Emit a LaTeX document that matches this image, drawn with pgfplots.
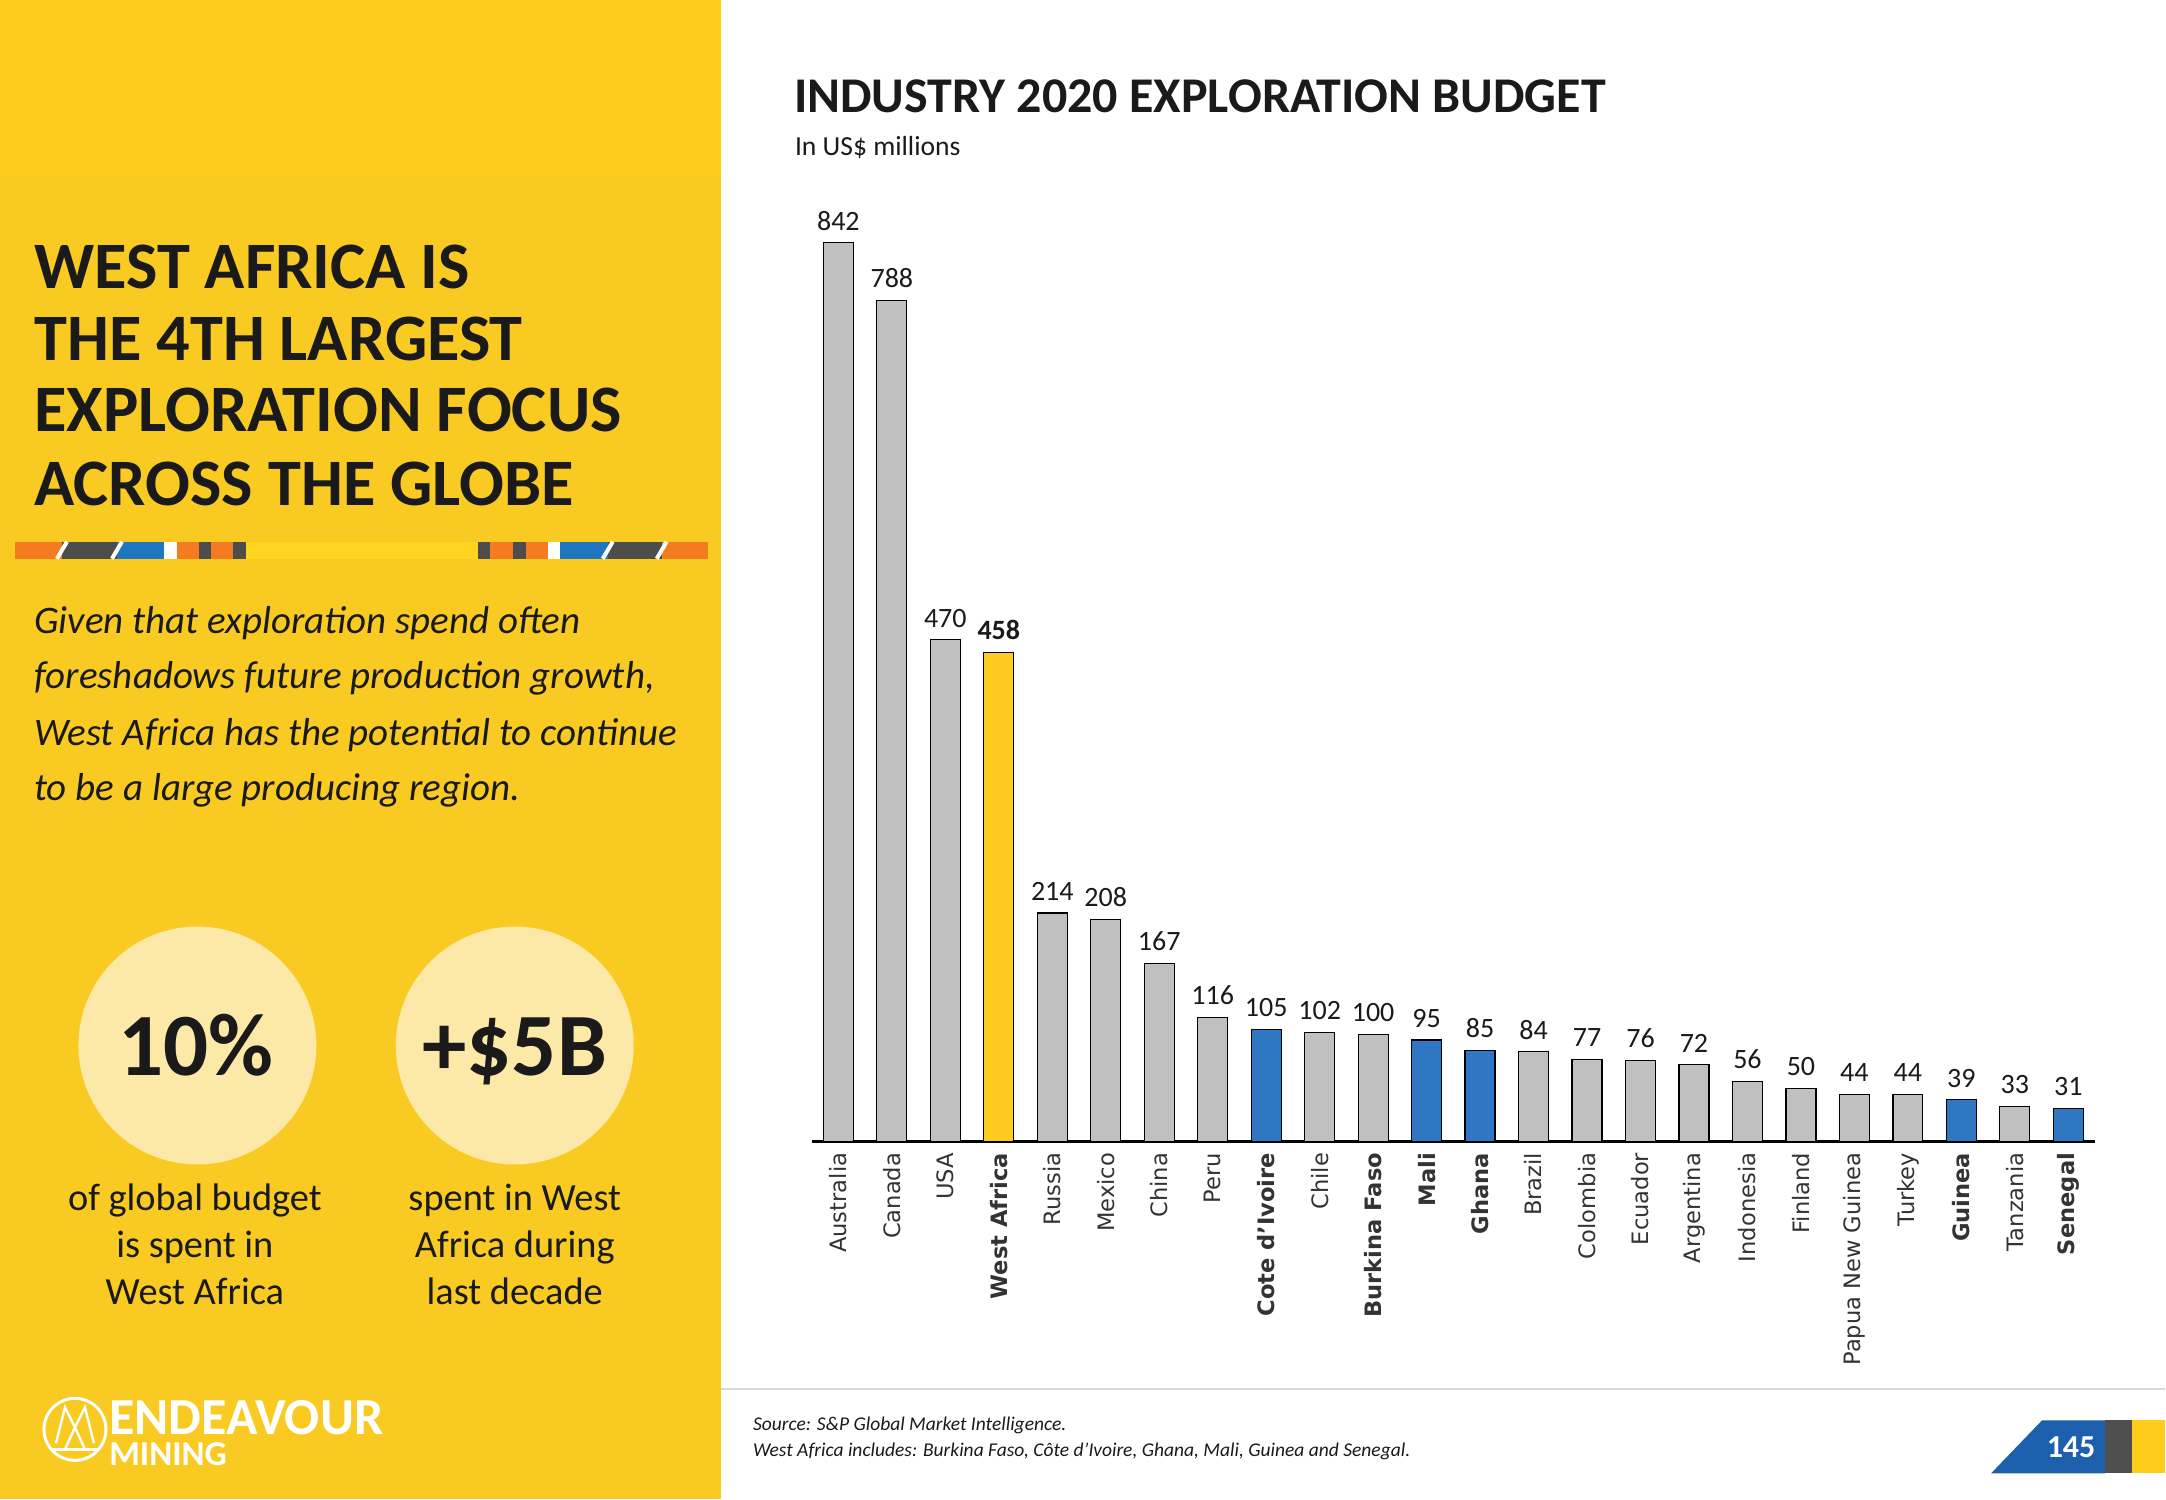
\documentclass[border=0pt]{standalone}
\usepackage{fontspec}
\setmainfont{Carlito}
\newfontfamily\dejavu{DejaVu Sans}
\usepackage{pgfplots}
\pgfplotsset{compat=1.18}
\definecolor{panel}{HTML}{F9CB22}
\definecolor{paneltop}{HTML}{FECD1A}
\definecolor{circ}{HTML}{FDE9A7}
\definecolor{sorange}{HTML}{F47B20}
\definecolor{sdark}{HTML}{4D4D4D}
\definecolor{sblue}{HTML}{1E76BE}
\definecolor{syellow}{HTML}{FFD41F}
\definecolor{bargrey}{HTML}{C0C0C0}
\definecolor{barblue}{HTML}{2F77C2}
\definecolor{baryellow}{HTML}{FFCB1F}
\definecolor{txt}{HTML}{1A1A1A}
\definecolor{pgblue}{HTML}{1C5FAD}
\definecolor{pggrey}{HTML}{4F4F4F}
\newcommand{\fs}[1]{\fontsize{#1}{#1}\selectfont}
\begin{document}
\begin{tikzpicture}[x=0.5pt,y=0.5pt]
% background
\fill[white] (0,0) rectangle (2166,1500);
\fill[panel] (0,0) rectangle (721,1500);
\fill[paneltop] (0,1323) rectangle (721,1500);
% headline
\begin{scope}[every node/.style={anchor=base west, inner sep=0pt, text=txt, font=\bfseries\fs{33.2}}]
\node at (34,1211) {WEST AFRICA IS};
\node at (34,1139) {THE 4TH LARGEST};
\node at (34,1068) {EXPLORATION FOCUS};
\node at (34,994) {ACROSS THE GLOBE};
\end{scope}
% stripe
\fill[sorange] (15,941) rectangle (62,958);
\fill[sdark] (62,941) rectangle (117,958);
\fill[sblue] (117,941) rectangle (164,958);
\fill[white] (164,941) rectangle (177,958);
\fill[sorange] (177,941) rectangle (199,958);
\fill[sdark] (199,941) rectangle (211,958);
\fill[sorange] (211,941) rectangle (233,958);
\fill[sdark] (233,941) rectangle (246,958);
\fill[syellow] (246,941) rectangle (478,958);
\fill[sdark] (478,941) rectangle (490,958);
\fill[sorange] (490,941) rectangle (513,958);
\fill[sdark] (513,941) rectangle (526,958);
\fill[sorange] (526,941) rectangle (548,958);
\fill[white] (548,941) rectangle (560,958);
\fill[sblue] (560,941) rectangle (608,958);
\fill[sdark] (608,941) rectangle (662,958);
\fill[sorange] (662,941) rectangle (708,958);
\foreach \s in {62,117,608,662} {\draw[white, line width=2pt] (\s-5,941) -- (\s+5,958);}
% paragraph
\begin{scope}[every node/.style={anchor=base west, inner sep=0pt, text=txt, font=\itshape\fs{19.5}}]
\node at (34,866) {Given that exploration spend often};
\node at (34,811) {foreshadows future production growth,};
\node at (34,754) {West Africa has the potential to continue};
\node at (34,699) {to be a large producing region.};
\end{scope}
% circles
\fill[circ] (197.5,454) circle (119);
\fill[circ] (515,454) circle (119);
\node[anchor=base, inner sep=0pt, text=txt, font=\bfseries\fs{44.5}] at (196,424) {10\%};
\node[anchor=base, inner sep=0pt, text=txt, font=\bfseries\fs{44.5}] at (515,424) {+\$5B};
\begin{scope}[every node/.style={anchor=base, inner sep=0pt, text=txt, font=\fs{19.2}}]
\node at (195,289) {of global budget};
\node at (195,242) {is spent in};
\node at (195,195) {West Africa};
\node at (515,289) {spent in West};
\node at (515,242) {Africa during};
\node at (515,195) {last decade};
\end{scope}
% logo
\draw[white, line width=1.5pt] (75,70) circle (31);
\draw[white, line width=1.2pt, line join=miter] (56,56) -- (65,92) -- (75,72) -- (85,92) -- (94,56);
\draw[white, line width=1.2pt] (65,50) -- (75,72) -- (85,50);
\draw[white, line width=1.2pt] (52,50) -- (98,50);
\node[anchor=base west, inner sep=0pt, text=white, font=\bfseries\fs{26}] at (109,65) {ENDEAVOUR};
\node[anchor=base west, inner sep=0pt, text=white, font=\bfseries\fs{17.5}] at (109,34) {MINING};
% chart title
\node[anchor=base west, inner sep=0pt, text=txt, font=\bfseries\fs{25}] at (794,1387) {INDUSTRY 2020 EXPLORATION BUDGET};
\node[anchor=base west, inner sep=0pt, text=txt, font=\fs{13.8}] at (795,1344) {In US\$ millions};
% separator and footer
\draw[black!15, line width=1pt] (721,110) -- (2166,110);
\node[anchor=base west, inner sep=0pt, text=txt, font=\itshape\fs{9.75}] at (753,69) {Source: S\&P Global Market Intelligence.};
\node[anchor=base west, inner sep=0pt, text=txt, font=\itshape\fs{9.75}] at (753,43) {West Africa includes: Burkina Faso, Côte d’Ivoire, Ghana, Mali, Guinea and Senegal.};
% page number
\fill[pgblue] (1992,26) -- (2043,79) -- (2106,79) -- (2106,26) -- cycle;
\fill[pggrey] (2106,26) rectangle (2133,79);
\fill[paneltop] (2133,26) rectangle (2166,79);
\node[anchor=base, inner sep=0pt, text=white, font=\bfseries\fs{16}] at (2072,42) {145};
% chart
\begin{axis}[
  at={(406pt,179pt)}, anchor=south west,
  scale only axis, width=642pt, height=449.5pt,
  xmin=-0.5, xmax=23.5, ymin=0, ymax=842,
  axis x line*=bottom, hide y axis,
  axis line style={black, line width=1.3pt, -},
  xtick={0,...,23},
  xticklabels={Australia,Canada,USA,\textbf{West Africa},Russia,Mexico,China,Peru,\textbf{Cote d’Ivoire},Chile,\textbf{Burkina Faso},\textbf{Mali},\textbf{Ghana},Brazil,Colombia,Ecuador,Argentina,Indonesia,Finland,Papua New Guinea,Turkey,\textbf{Guinea},Tanzania,\textbf{Senegal}},
  major tick length=0pt,
  xticklabel style={rotate=90, anchor=east, inner sep=0pt, font=\dejavu\fs{11.3}, text=black!80},
  xticklabel shift=5.5pt,
  ybar, bar width=15pt,
  clip=false,
  nodes near coords,
  every node near coord/.append style={font=\fs{14}, inner sep=0pt, yshift=6pt, text=txt},
  /pgf/number format/assume math mode=true,
]
\addplot[bar shift=0pt, fill=bargrey, draw=black, line width=0.6pt] coordinates {
(0,842) (1,788) (2,470) (4,214) (5,208) (6,167) (7,116) (9,102) (10,100) (13,84) (14,77) (15,76) (16,72) (17,56) (18,50) (19,44) (20,44) (22,33)};
\addplot[bar shift=0pt, fill=baryellow, draw=black, line width=0.6pt,
  every node near coord/.append style={font=\bfseries\fs{14}}] coordinates {(3,458)};
\addplot[bar shift=0pt, fill=barblue, draw=black, line width=0.6pt] coordinates {
(8,105) (11,95) (12,85) (21,39) (23,31)};
\end{axis}
\end{tikzpicture}
\end{document}
